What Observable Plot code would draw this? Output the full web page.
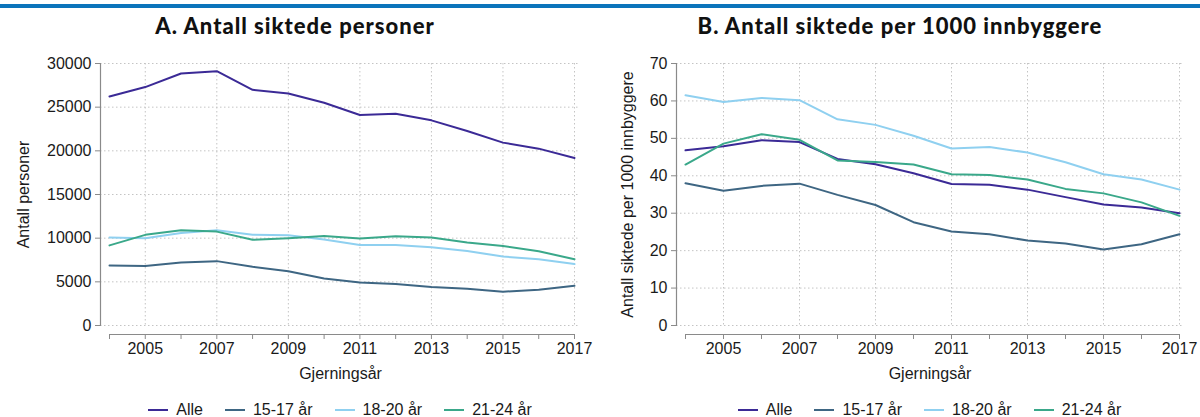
<!DOCTYPE html>
<html>
<head>
<meta charset="utf-8">
<script src="https://cdn.jsdelivr.net/npm/d3@7"></script>
<script src="https://cdn.jsdelivr.net/npm/@observablehq/plot@0.6"></script>
<style>
  html, body { margin: 0; padding: 0; background: #fff; }
  #wrap { position: relative; width: 1200px; height: 417px; overflow: hidden; font-family: "Liberation Sans", Arial, sans-serif; color: #1a1a1a; }
  .bar { position: absolute; left: 0; top: 4px; width: 1200px; height: 3.5px; background: #0b74bb; }
  .title { position: absolute; top: 12px; font-family: Lato, "Open Sans", sans-serif; font-weight: 900; font-size: 22px; text-align: center; color: #111; letter-spacing: 1px; }
  .panel { position: absolute; top: 45px; }
  .legend { position: absolute; top: 401px; display: flex; justify-content: center; align-items: center; font-size: 16px; line-height: 18px; }
  .item { display: flex; align-items: center; margin: 0 11px; }
  .sw { width: 20px; height: 2px; margin-right: 8px; }
</style>
</head>
<body>
<div id="wrap">
  <div class="bar"></div>
  <div class="title" style="left:0;width:590px;">A. Antall siktede personer</div>
  <div class="title" style="left:600px;width:600px;">B. Antall siktede per 1000 innbyggere</div>
  <div class="panel" id="pa" style="left:0;"></div>
  <div class="panel" id="pb" style="left:600px;"></div>
  <div class="legend" id="la" style="left:100px;width:480px;"></div>
  <div class="legend" id="lb" style="left:676px;width:507px;"></div>
</div>
<script>
const years = [2004, 2005, 2006, 2007, 2008, 2009, 2010, 2011, 2012, 2013, 2014, 2015, 2016, 2017];
const labeledYears = [2005, 2007, 2009, 2011, 2013, 2015, 2017];
const groups = ["Alle", "15-17 år", "18-20 år", "21-24 år"];
const colors = ["#3b2a96", "#3e6683", "#8fd0f0", "#3aa88a"];

// Panel A: number of charged persons
const countAlle = [26230, 27300, 28860, 29120, 26990, 26570, 25500, 24100, 24250, 23490, 22270, 20940, 20250, 19180];
const count1517 = [6880, 6800, 7220, 7370, 6730, 6200, 5380, 4930, 4740, 4400, 4210, 3870, 4100, 4550];
const count1820 = [10075, 10000, 10600, 10900, 10400, 10340, 9850, 9210, 9210, 8950, 8530, 7890, 7590, 7030];
const count2124 = [9170, 10380, 10900, 10750, 9810, 10000, 10260, 9960, 10230, 10080, 9510, 9100, 8500, 7590];
const yTicksA = [0, 5000, 10000, 15000, 20000, 25000, 30000];

// Panel B: charged per 1000 inhabitants
const rateAlle = [46.8, 47.9, 49.5, 49.0, 44.5, 43.1, 40.7, 37.8, 37.6, 36.3, 34.3, 32.3, 31.5, 30.0];
const rate1517 = [38.0, 36.0, 37.3, 37.9, 34.9, 32.2, 27.6, 25.1, 24.4, 22.7, 21.9, 20.3, 21.7, 24.4];
const rate1820 = [61.5, 59.7, 60.8, 60.2, 55.1, 53.6, 50.7, 47.3, 47.7, 46.2, 43.6, 40.4, 39.0, 36.3];
const rate2124 = [43.0, 48.6, 51.1, 49.6, 44.1, 43.7, 43.0, 40.4, 40.2, 39.0, 36.5, 35.3, 32.9, 29.3];
const yTicksB = [0, 10, 20, 30, 40, 50, 60, 70];

function tidy(series) {
  const rows = [];
  series.forEach((vals, gi) => vals.forEach((v, i) => rows.push({group: groups[gi], year: years[i], value: v})));
  return rows;
}

function panel(data, opts) {
  const gridStyle = {stroke: "#c4c4c4", strokeOpacity: 1, strokeWidth: 1, strokeDasharray: "1.5,2.5"};
  return Plot.plot({
    width: 600,
    height: 345,
    marginTop: 18,
    marginBottom: 65,
    marginLeft: opts.marginLeft,
    marginRight: opts.marginRight,
    style: {fontFamily: "'Liberation Sans', Arial, sans-serif", fontSize: "16px", color: "#1a1a1a", background: "transparent", overflow: "visible"},
    x: {domain: [years[0], years[years.length - 1]], range: opts.xRange},
    y: {domain: [0, opts.yTicks[opts.yTicks.length - 1]]},
    color: {domain: groups, range: colors},
    marks: [
      Plot.gridY({ticks: opts.yTicks, ...gridStyle}),
      Plot.gridX({ticks: labeledYears, ...gridStyle}),
      Plot.frame({anchor: "left", stroke: "#8a8a8a", strokeWidth: 1.2}),
      Plot.axisY({ticks: opts.yTicks, tickSize: 5, tickPadding: 4, tickFormat: d3.format("d"), label: null, stroke: "#8a8a8a", fill: "#1a1a1a", fontSize: 16}),
      Plot.ruleY([{y: 0, a: years[0], b: years[years.length - 1]}], {y: "y", x1: "a", x2: "b", dy: 9, stroke: "#8a8a8a", strokeWidth: 1.2}),
      Plot.axisX({ticks: years, tickSize: 5, tickPadding: 3, dy: 9, tickFormat: d => (labeledYears.includes(d) ? String(d) : ""), label: null, stroke: "#8a8a8a", fill: "#1a1a1a", fontSize: 16}),
      Plot.lineY(data, {x: "year", y: "value", stroke: "group", strokeWidth: 2}),
      Plot.text([opts.yLabel], {frameAnchor: "left", textAnchor: "middle", lineAnchor: "middle", rotate: -90, dx: opts.yLabelDx, fontSize: 16, fill: "#1a1a1a"}),
      Plot.text(["Gjerningsår"], {frameAnchor: "bottom", textAnchor: "middle", lineAnchor: "middle", dy: 48, fontSize: 16, fill: "#1a1a1a"})
    ]
  });
}

document.getElementById("pa").append(panel(tidy([countAlle, count1517, count1820, count2124]), {
  marginLeft: 100, marginRight: 20, xRange: [109, 574], yTicks: yTicksA, yLabel: "Antall personer", yLabelDx: -77
}));
document.getElementById("pb").append(panel(tidy([rateAlle, rate1517, rate1820, rate2124]), {
  marginLeft: 76, marginRight: 17, xRange: [85, 579], yTicks: yTicksB, yLabel: "Antall siktede per 1000 innbyggere", yLabelDx: -49
}));

function legend(id) {
  const el = document.getElementById(id);
  groups.forEach((g, i) => {
    const item = document.createElement("div");
    item.className = "item";
    const sw = document.createElement("div");
    sw.className = "sw";
    sw.style.background = colors[i];
    const t = document.createElement("span");
    t.textContent = g;
    item.append(sw, t);
    el.append(item);
  });
}
legend("la");
legend("lb");
</script>
</body>
</html>
